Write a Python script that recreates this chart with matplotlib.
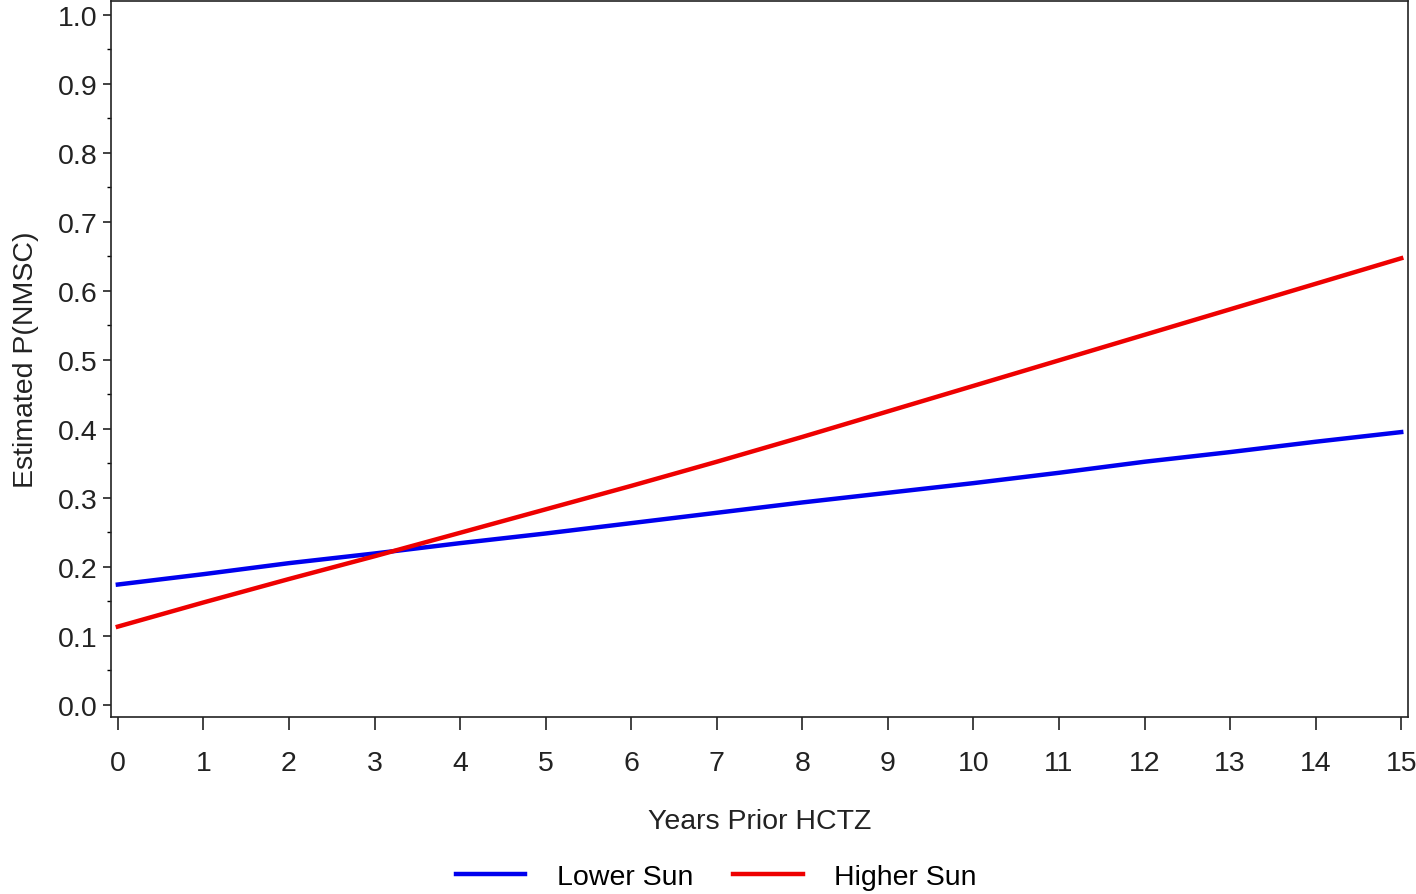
import matplotlib
matplotlib.use('Agg')
import matplotlib.pyplot as plt
from matplotlib.ticker import MultipleLocator

# estimated probabilities
years = [0, 1, 2, 3, 4, 5, 6, 7, 8, 9, 10, 11, 12, 13, 14, 15]
lower_sun = [0.174, 0.189, 0.205, 0.219, 0.234, 0.248, 0.263, 0.278,
             0.293, 0.307, 0.321, 0.336, 0.352, 0.366, 0.381, 0.395]
higher_sun = [0.113, 0.148, 0.182, 0.215, 0.249, 0.283, 0.317, 0.352,
              0.388, 0.425, 0.462, 0.499, 0.536, 0.573, 0.610, 0.647]
series_labels = ['Lower Sun', 'Higher Sun']

plt.rcParams['font.family'] = ['Liberation Sans', 'DejaVu Sans']
fs = 20.5

fig = plt.figure(figsize=(14.16, 8.95), dpi=100)
ax = fig.add_axes([0.0784, 0.1978, 0.916, 0.800])

ax.plot(years, lower_sun, color='#0000ee', linewidth=3.2, label=series_labels[0])
ax.plot(years, higher_sun, color='#ee0000', linewidth=3.2, label=series_labels[1])

ax.set_xlim(-0.08, 15.08)
ax.set_ylim(-0.018, 1.02)
ax.set_xticks(years)
ax.yaxis.set_major_locator(MultipleLocator(0.1))
ax.yaxis.set_minor_locator(MultipleLocator(0.05))
ax.yaxis.set_major_formatter(plt.FuncFormatter(lambda v, p: f'{v:.1f}'))

ax.tick_params(axis='x', which='major', length=9.5, width=1.2, pad=14, labelsize=fs, colors='#222222')
ax.tick_params(axis='y', which='major', length=5.5, width=1.2, pad=4, labelsize=fs, colors='#222222')
ax.tick_params(axis='y', which='minor', length=3, width=1.0)
for s in ax.spines.values():
    s.set_linewidth(1.2)
    s.set_color('#222222')

ax.set_xlabel('Years Prior HCTZ', fontsize=fs, labelpad=23, color='#222222')
ax.set_ylabel('Estimated P(NMSC)', fontsize=fs, labelpad=14, color='#222222')

fig.legend(loc='center', bbox_to_anchor=(716 / 1416, 1 - 878 / 895), ncol=2,
           frameon=False, fontsize=fs, handlelength=2.45, handletextpad=1.1,
           columnspacing=1.4)

fig.savefig('out.png', dpi=100)
